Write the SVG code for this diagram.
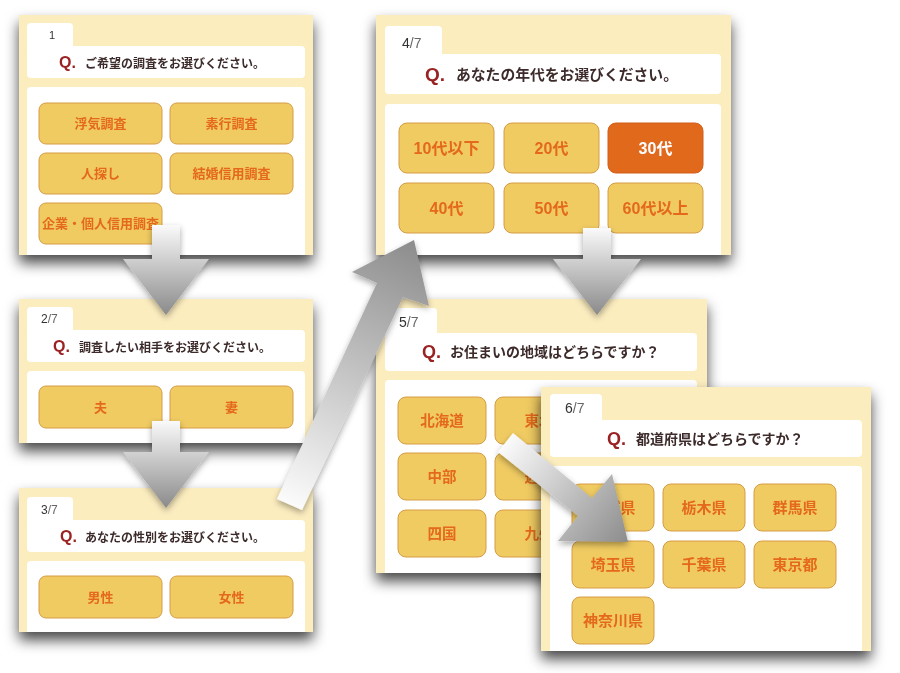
<svg xmlns="http://www.w3.org/2000/svg" width="900" height="673" viewBox="0 0 900 673">
<defs>
<style>
.pbg{fill:#fcedbf}
.wh{fill:#ffffff}
.btn{fill:#f0cb62;stroke:#d69c45;stroke-width:1}
.sel{fill:#e0691f;stroke:#d35f18;stroke-width:1}
.bt{font-family:"Liberation Sans","Noto Sans CJK JP",sans-serif;font-weight:bold;fill:#e4691c;text-anchor:middle}
.btw{fill:#ffffff}
.q{font-family:"Liberation Sans",sans-serif;font-weight:bold;fill:#9b2222}
.qt{font-family:"Noto Sans CJK JP",sans-serif;font-weight:bold;fill:#3d2b2b}
.tab{font-family:"Liberation Sans",sans-serif;fill:#333333}
.tab2{fill:#666666}
.panel{filter:url(#pshadow)}
.arrow{filter:url(#ashadow)}
</style>
<filter id="pshadow" x="-10%" y="-10%" width="120%" height="140%">
<feDropShadow dx="0" dy="8" stdDeviation="7" flood-color="#000" flood-opacity="0.72"/>
</filter>
<filter id="ashadow" x="-20%" y="-20%" width="140%" height="140%">
<feDropShadow dx="0" dy="3" stdDeviation="3" flood-color="#000" flood-opacity="0.35"/>
</filter>
<linearGradient id="gv" x1="0" y1="0" x2="0" y2="1">
<stop offset="0" stop-color="#fafafa"/>
<stop offset="1" stop-color="#8a8a8a"/>
</linearGradient>
<linearGradient id="g3" gradientUnits="userSpaceOnUse" x1="289" y1="504" x2="414" y2="240">
<stop offset="0" stop-color="#fbfbfb"/>
<stop offset="1" stop-color="#8c8c8c"/>
</linearGradient>
<linearGradient id="g5" gradientUnits="userSpaceOnUse" x1="505" y1="443" x2="628" y2="542">
<stop offset="0" stop-color="#fbfbfb"/>
<stop offset="1" stop-color="#8c8c8c"/>
</linearGradient>
</defs>

<g id="panel1" class="panel">
<rect class="pbg" x="19" y="15" width="294" height="240"/>
<rect class="wh" x="27" y="46" width="278" height="32" rx="4"/>
<path class="wh" d="M27,48 V27 a4,4 0 0 1 4,-4 H69 a4,4 0 0 1 4,4 V48 Z"/>
<path class="wh" d="M27,255 V91 a4,4 0 0 1 4,-4 H301 a4,4 0 0 1 4,4 V255 Z"/>
<text class="tab" x="49" y="39" font-size="11">1</text>
<text class="q" x="59" y="68" font-size="16">Q.</text>
<text class="qt" x="85" y="68" font-size="12">ご希望の調査をお選びください。</text>
<rect class="btn" x="39" y="103" width="123" height="41" rx="7"/>
<rect class="btn" x="170" y="103" width="123" height="41" rx="7"/>
<rect class="btn" x="39" y="153" width="123" height="41" rx="7"/>
<rect class="btn" x="170" y="153" width="123" height="41" rx="7"/>
<rect class="btn" x="39" y="203" width="123" height="41" rx="7"/>
<text class="bt" x="100.5" y="128" font-size="13">浮気調査</text>
<text class="bt" x="231.5" y="128" font-size="13">素行調査</text>
<text class="bt" x="100.5" y="178" font-size="13">人探し</text>
<text class="bt" x="231.5" y="178" font-size="13">結婚信用調査</text>
<text class="bt" x="100.5" y="228" font-size="13">企業・個人信用調査</text>
</g>

<g id="panel2" class="panel">
<rect class="pbg" x="19" y="299" width="294" height="144"/>
<rect class="wh" x="27" y="330" width="278" height="32" rx="4"/>
<path class="wh" d="M27,332 V311 a4,4 0 0 1 4,-4 H69 a4,4 0 0 1 4,4 V332 Z"/>
<path class="wh" d="M27,443 V375 a4,4 0 0 1 4,-4 H301 a4,4 0 0 1 4,4 V443 Z"/>
<text class="tab" x="41" y="323" font-size="12">2<tspan class="tab2">/7</tspan></text>
<text class="q" x="53" y="352" font-size="16">Q.</text>
<text class="qt" x="79" y="352" font-size="12">調査したい相手をお選びください。</text>
<rect class="btn" x="39" y="386" width="123" height="42" rx="7"/>
<rect class="btn" x="170" y="386" width="123" height="42" rx="7"/>
<text class="bt" x="100.5" y="412" font-size="13">夫</text>
<text class="bt" x="231.5" y="412" font-size="13">妻</text>
</g>

<g id="panel3" class="panel">
<rect class="pbg" x="19" y="488" width="294" height="144"/>
<rect class="wh" x="27" y="520" width="278" height="32" rx="4"/>
<path class="wh" d="M27,522 V501 a4,4 0 0 1 4,-4 H69 a4,4 0 0 1 4,4 V522 Z"/>
<path class="wh" d="M27,632 V565 a4,4 0 0 1 4,-4 H301 a4,4 0 0 1 4,4 V632 Z"/>
<text class="tab" x="41" y="514" font-size="12">3<tspan class="tab2">/7</tspan></text>
<text class="q" x="60" y="542" font-size="16">Q.</text>
<text class="qt" x="85" y="542" font-size="12">あなたの性別をお選びください。</text>
<rect class="btn" x="39" y="576" width="123" height="42" rx="7"/>
<rect class="btn" x="170" y="576" width="123" height="42" rx="7"/>
<text class="bt" x="100.5" y="602" font-size="13">男性</text>
<text class="bt" x="231.5" y="602" font-size="13">女性</text>
</g>

<g id="panel4" class="panel">
<rect class="pbg" x="376" y="15" width="355" height="240"/>
<rect class="wh" x="385" y="54" width="336" height="40" rx="4"/>
<path class="wh" d="M385,56 V30 a4,4 0 0 1 4,-4 H438 a4,4 0 0 1 4,4 V56 Z"/>
<path class="wh" d="M385,255 V108 a4,4 0 0 1 4,-4 H717 a4,4 0 0 1 4,4 V255 Z"/>
<text class="tab" x="402" y="48" font-size="14">4<tspan class="tab2">/7</tspan></text>
<text class="q" x="425" y="81" font-size="19">Q.</text>
<text class="qt" x="456" y="80" font-size="14.8">あなたの年代をお選びください。</text>
<rect class="btn" x="399" y="123" width="95" height="50" rx="8"/>
<rect class="btn" x="504" y="123" width="95" height="50" rx="8"/>
<rect class="sel" x="608" y="123" width="95" height="50" rx="8"/>
<rect class="btn" x="399" y="183" width="95" height="50" rx="8"/>
<rect class="btn" x="504" y="183" width="95" height="50" rx="8"/>
<rect class="btn" x="608" y="183" width="95" height="50" rx="8"/>
<text class="bt" x="446.5" y="154" font-size="16">10代以下</text>
<text class="bt" x="551.5" y="154" font-size="16">20代</text>
<text class="bt btw" x="655.5" y="154" font-size="16">30代</text>
<text class="bt" x="446.5" y="214" font-size="16">40代</text>
<text class="bt" x="551.5" y="214" font-size="16">50代</text>
<text class="bt" x="655.5" y="214" font-size="16">60代以上</text>
</g>

<g id="panel5" class="panel">
<rect class="pbg" x="376" y="299" width="331" height="274"/>
<rect class="wh" x="385" y="333" width="312" height="38" rx="4"/>
<path class="wh" d="M385,335 V312 a4,4 0 0 1 4,-4 H433 a4,4 0 0 1 4,4 V335 Z"/>
<path class="wh" d="M385,573 V384 a4,4 0 0 1 4,-4 H693 a4,4 0 0 1 4,4 V573 Z"/>
<text class="tab" x="399" y="327" font-size="14">5<tspan class="tab2">/7</tspan></text>
<text class="q" x="422" y="358" font-size="18">Q.</text>
<text class="qt" x="450" y="357" font-size="14">お住まいの地域はどちらですか？</text>
<rect class="btn" x="398" y="397" width="88" height="47" rx="8"/>
<rect class="btn" x="495" y="397" width="88" height="47" rx="8"/>
<rect class="btn" x="398" y="453" width="88" height="47" rx="8"/>
<rect class="btn" x="495" y="453" width="88" height="47" rx="8"/>
<rect class="btn" x="398" y="510" width="88" height="47" rx="8"/>
<rect class="btn" x="495" y="510" width="88" height="47" rx="8"/>
<text class="bt" x="442" y="426" font-size="14.5">北海道</text>
<text class="bt" x="539" y="426" font-size="14.5">東北</text>
<text class="bt" x="442" y="482" font-size="14.5">中部</text>
<text class="bt" x="539" y="482" font-size="14.5">近畿</text>
<text class="bt" x="442" y="539" font-size="14.5">四国</text>
<text class="bt" x="539" y="539" font-size="14.5">九州</text>
</g>

<g id="panel6" class="panel">
<rect class="pbg" x="541" y="387" width="330" height="264"/>
<rect class="wh" x="550" y="420" width="312" height="37" rx="4"/>
<path class="wh" d="M550,422 V398 a4,4 0 0 1 4,-4 H598 a4,4 0 0 1 4,4 V422 Z"/>
<path class="wh" d="M550,651 V470 a4,4 0 0 1 4,-4 H858 a4,4 0 0 1 4,4 V651 Z"/>
<text class="tab" x="565" y="413" font-size="14">6<tspan class="tab2">/7</tspan></text>
<text class="q" x="607" y="445" font-size="18">Q.</text>
<text class="qt" x="636" y="444" font-size="14">都道府県はどちらですか？</text>
<rect class="btn" x="572" y="484" width="82" height="47" rx="8"/>
<rect class="btn" x="663" y="484" width="82" height="47" rx="8"/>
<rect class="btn" x="754" y="484" width="82" height="47" rx="8"/>
<rect class="btn" x="572" y="541" width="82" height="47" rx="8"/>
<rect class="btn" x="663" y="541" width="82" height="47" rx="8"/>
<rect class="btn" x="754" y="541" width="82" height="47" rx="8"/>
<rect class="btn" x="572" y="597" width="82" height="47" rx="8"/>
<text class="bt" x="613" y="513" font-size="15">茨城県</text>
<text class="bt" x="704" y="513" font-size="15">栃木県</text>
<text class="bt" x="795" y="513" font-size="15">群馬県</text>
<text class="bt" x="613" y="570" font-size="15">埼玉県</text>
<text class="bt" x="704" y="570" font-size="15">千葉県</text>
<text class="bt" x="795" y="570" font-size="15">東京都</text>
<text class="bt" x="613" y="626" font-size="15">神奈川県</text>
</g>

<g id="connectors">
<polygon class="arrow" fill="url(#gv)" points="152,225 180,225 180,259 209,259 166,315 123,259 152,259"/>
<polygon class="arrow" fill="url(#gv)" points="152,421 180,421 180,452 209,452 166,508 123,452 152,452"/>
<polygon class="arrow" fill="url(#g3)" points="277,499 377,283 352,272 414,240 429,306 403,297 302,510"/>
<polygon class="arrow" fill="url(#gv)" points="583,228 611,228 611,259 641,259 597,315 553,259 583,259"/>
<polygon class="arrow" fill="url(#g5)" points="513,433 592,498 612,474 628,542 558,541 578,516 498,452"/>
</g>
</svg>
